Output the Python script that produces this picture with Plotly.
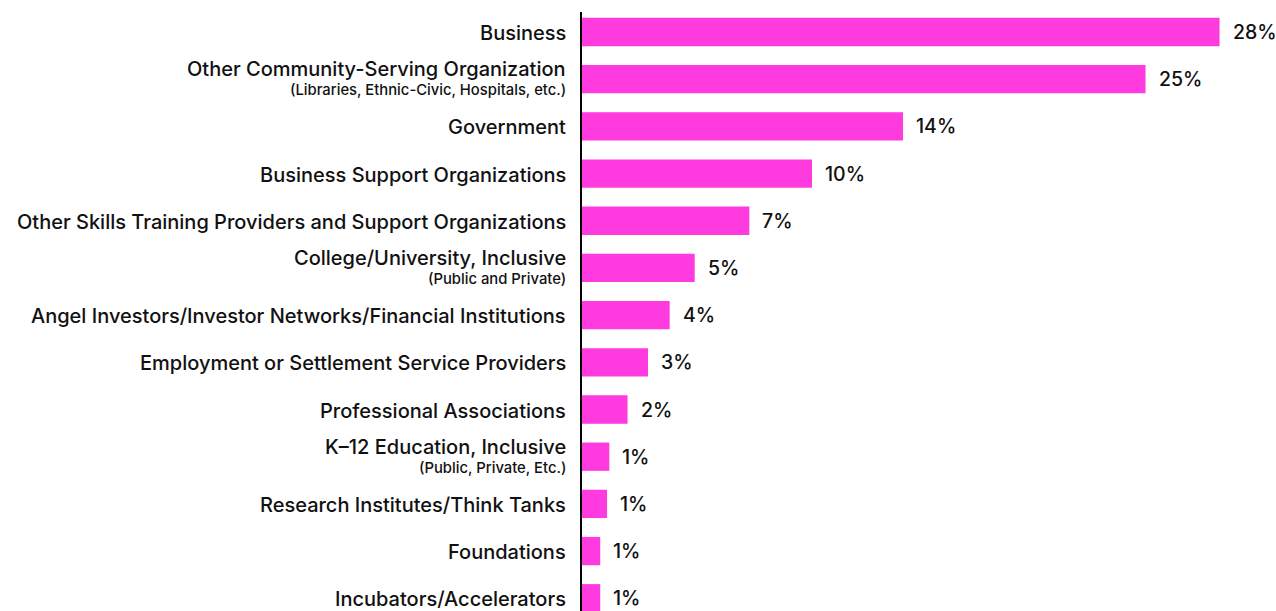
import plotly.graph_objects as go

# Share of respondents by partner type (percent)
categories = [
    "Business",
    "Other Community-Serving Organization",
    "Government",
    "Business Support Organizations",
    "Other Skills Training Providers and Support Organizations",
    "College/University, Inclusive",
    "Angel Investors/Investor Networks/Financial Institutions",
    "Employment or Settlement Service Providers",
    "Professional Associations",
    "K\u201312 Education, Inclusive",
    "Research Institutes/Think Tanks",
    "Foundations",
    "Incubators/Accelerators",
]
subtitles = [
    "",
    "(Libraries, Ethnic-Civic, Hospitals, etc.)",
    "",
    "",
    "",
    "(Public and Private)",
    "",
    "",
    "",
    "(Public, Private, Etc.)",
    "",
    "",
    "",
]
values = [28.0, 24.75, 14.1, 10.1, 7.35, 4.95, 3.85, 2.9, 2.0, 1.2, 1.1, 0.8, 0.8]

BAR_COLOR = "#FF3ADF"
TEXT_COLOR = "#111111"
FONT = "Inter, Roboto, Arial, sans-serif"

idx = list(range(len(categories)))

fig = go.Figure(
    go.Bar(
        x=values,
        y=idx,
        orientation="h",
        width=0.6,
        marker=dict(color=BAR_COLOR, line=dict(width=0)),
        hoverinfo="skip",
    )
)

annotations = []
for i, (name, sub, v) in enumerate(zip(categories, subtitles, values)):
    # category name (and optional note underneath), right-aligned beside the axis
    annotations.append(dict(
        x=0, xref="paper", y=i, yref="y",
        xanchor="right", yanchor="middle", xshift=-14,
        yshift=10 if sub else -1,
        text=name, showarrow=False,
        font=dict(family=FONT, size=20, color=TEXT_COLOR, weight=500),
    ))
    if sub:
        annotations.append(dict(
            x=0, xref="paper", y=i, yref="y",
            xanchor="right", yanchor="middle", xshift=-14, yshift=-11,
            text=sub, showarrow=False,
            font=dict(family=FONT, size=14.8, color=TEXT_COLOR, weight=500),
        ))
    # value label just past the end of the bar
    annotations.append(dict(
        x=v, xref="x", y=i, yref="y",
        xanchor="left", yanchor="middle", xshift=12, borderpad=0,
        text=f"{v:.0f}%", showarrow=False,
        font=dict(family=FONT, size=19.5, color=TEXT_COLOR, weight=500),
    ))

fig.update_layout(
    width=1276,
    height=611,
    margin=dict(l=582, r=0, t=12, b=0),
    paper_bgcolor="white",
    plot_bgcolor="white",
    showlegend=False,
    annotations=annotations,
    xaxis=dict(
        range=[0, 30.48],
        visible=False,
        showgrid=False,
        zeroline=False,
    ),
    yaxis=dict(
        range=[12.27, -0.424],
        showticklabels=False,
        showgrid=False,
        zeroline=False,
        showline=True,
        linecolor="#000000",
        linewidth=2,
        ticks="",
    ),
)

fig.write_html("out.html")
